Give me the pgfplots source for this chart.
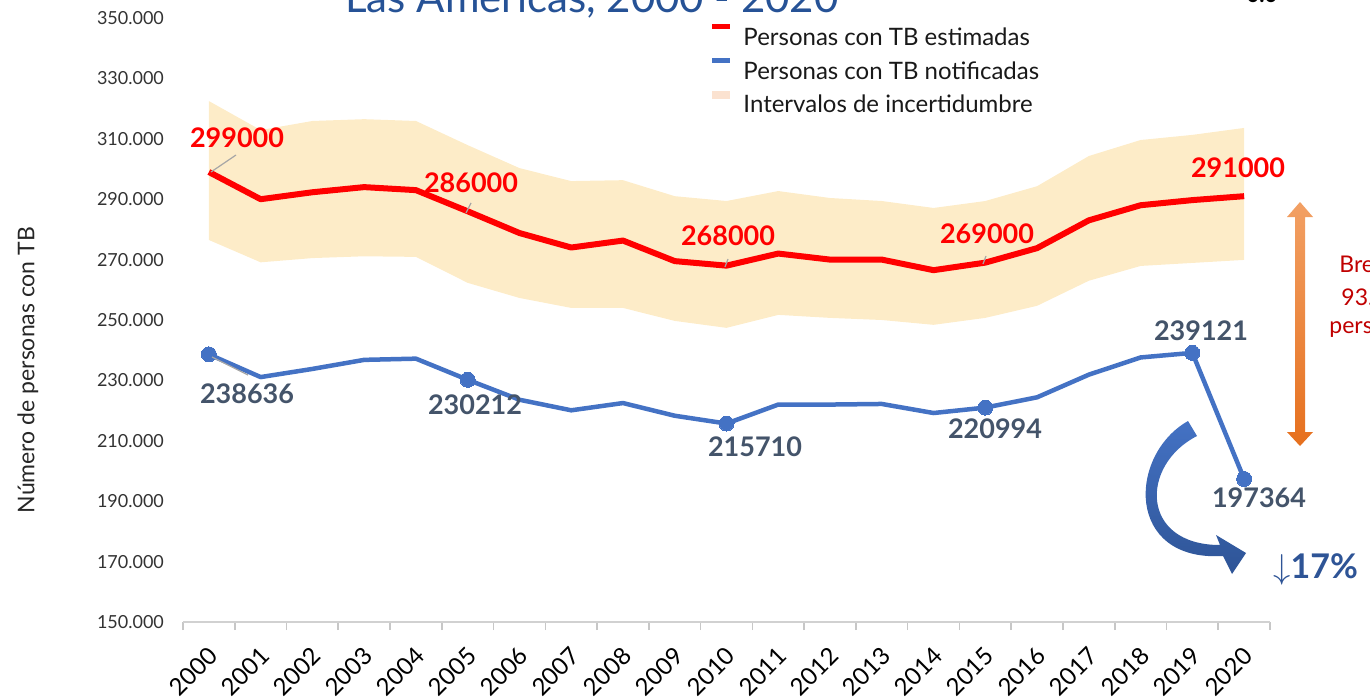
\documentclass[border=0pt]{standalone}
\usepackage{pgfplots}
\pgfplotsset{compat=1.18}
\usepgfplotslibrary{fillbetween}
\usepackage{pgfplotstable}
\usepackage{fontspec}
\setmainfont{Lato}
\definecolor{estred}{RGB}{255,0,0}
\definecolor{notblue}{RGB}{68,114,196}
\definecolor{band}{RGB}{253,236,200}
\definecolor{bandleg}{RGB}{251,226,208}
\definecolor{lblblue}{RGB}{68,84,106}
\definecolor{titleblue}{RGB}{38,82,150}
\definecolor{darkred}{RGB}{192,0,0}
\definecolor{arrowblue}{RGB}{46,84,150}
\definecolor{orangeL}{RGB}{242,160,100}
\definecolor{orangeD}{RGB}{230,112,30}

\pgfplotstableread{
x est up lo notif
0 299000 322500 276500 238636
1 290000 312900 269100 231100
2 292300 315900 270500 233800
3 294000 316500 271100 236800
4 293000 315900 270900 237200
5 286000 307900 262300 230212
6 278800 300300 257300 223600
7 274000 296000 254000 220100
8 276300 296300 254000 222500
9 269500 291000 249700 218300
10 268000 289400 247400 215710
11 272000 292700 251700 222000
12 270000 290400 250700 222000
13 270000 289400 250000 222200
14 266500 287100 248400 219200
15 269000 289400 250700 220994
16 273800 294300 254700 224400
17 283000 304300 263000 231900
18 288000 309600 267900 237600
19 289700 311300 268900 239121
20 291000 313600 269900 197364
}\datatable

\begin{document}
\begin{tikzpicture}
\begin{axis}[
  at={(91.5pt,38pt)}, anchor=south west,
  width=543.5pt, height=302pt, scale only axis,
  xmin=-0.5, xmax=20.5, ymin=150000, ymax=350000,
  clip=false,
  axis x line=bottom, axis y line=left,
  x axis line style={-, draw=black!18, line width=1pt},
  y axis line style={draw=none},
  xtick={0,...,20},
  xticklabels={2000,2001,2002,2003,2004,2005,2006,2007,2008,2009,2010,2011,2012,2013,2014,2015,2016,2017,2018,2019,2020},
  major x tick style={draw=none},
  minor xtick={-0.5,0.5,...,20.5},
  minor x tick style={draw=black!22, line width=0.8pt},
  minor tick length=4pt,
  major tick length=4pt,
  tick align=outside,
  ytick={150000,170000,...,350000},
  ytick style={draw=none},
  scaled y ticks=false,
  /pgf/number format/.cd, fixed, 1000 sep={.}, assume math mode=true,
  /pgfplots/.cd,
  y tick label style={font=\fontsize{9}{10}\selectfont, text=black!80, anchor=east, xshift=-2pt},
  x tick label style={font=\fontsize{12}{13}\selectfont, xshift=-1pt, yshift=-7.5pt, rotate=45, anchor=north east, inner sep=0pt},
  ylabel={Número de personas con TB},
  ylabel style={at={(axis description cs:-0.1426,0.417)}, anchor=center, rotate=0, font=\fontsize{11.5}{13}\selectfont, text=black!85},
  legend style={at={(axis description cs:0.4812,0.9966)}, anchor=north west, draw=none, fill=none,
    font=\fontsize{12}{14}\selectfont, text=black!90, row sep=3.5pt, column sep=0pt,
    nodes={inner sep=0pt, text height=8pt, text depth=2.5pt}},
  legend cell align=left,
]
\addplot[name path=up, draw=none, forget plot] table[x=x,y=up]{\datatable};
\addplot[name path=lo, draw=none, forget plot] table[x=x,y=lo]{\datatable};
\addplot[fill=band, draw=none, forget plot] fill between[of=up and lo];
\addplot[estred, line width=3pt, line join=round, forget plot] table[x=x,y=est]{\datatable};
\addplot[notblue, line width=2.25pt, line join=round, mark=*, mark size=3.75pt,
  mark indices={1,6,11,16,20,21}, mark options={fill=notblue, draw=notblue, line width=0pt}, forget plot]
  table[x=x,y=notif]{\datatable};
\addlegendimage{legend image code/.code={\fill[estred, draw=none] (0pt,5.5pt) rectangle (9pt,8pt); \path[draw=none] (9pt,6pt) -- (15.5pt,6pt);}}
\addlegendentry{Personas con TB estimadas}
\addlegendimage{legend image code/.code={\fill[notblue, draw=none] (0pt,5.5pt) rectangle (9pt,8pt); \path[draw=none] (9pt,6pt) -- (15.5pt,6pt);}}
\addlegendentry{Personas con TB notificadas}
\addlegendimage{legend image code/.code={\fill[bandleg, draw=none] (0pt,4pt) rectangle (9pt,8pt); \path[draw=none] (9pt,6pt) -- (15.5pt,6pt);}}
\addlegendentry{Intervalos de incertidumbre}
\end{axis}

\begin{scope}[shift={(0pt,349pt)}, x=0.5pt, y=-0.5pt]
  % title (cut off at the top, as in the reference)
  \node[anchor=base, inner sep=0pt, text=titleblue, font=\fontsize{21}{25}\selectfont] at (592,13) {Las Américas, 2000 - 2020};
  % leader lines
  \draw[black!35, line width=0.6pt] (211,172) -- (236,155);
  \draw[black!35, line width=0.6pt] (466,213) -- (471,203);
  \draw[black!35, line width=0.6pt] (725,267) -- (728,259);
  \draw[black!35, line width=0.6pt] (983,264) -- (986,256);
  \draw[black!35, line width=0.6pt] (212,357) -- (248,375);
  % data labels
  \begin{scope}[every node/.style={font=\fontsize{13.5}{15}\bfseries\selectfont, inner sep=0pt}]
    \node[text=estred] at (237,138) {299000};
    \node[text=estred] at (471,183) {286000};
    \node[text=estred] at (728,236) {268000};
    \node[text=estred] at (987,234) {269000};
    \node[text=estred] at (1238,168) {291000};
    \node[text=lblblue] at (247,394) {238636};
    \node[text=lblblue] at (475,405) {230212};
    \node[text=lblblue] at (755,447) {215710};
    \node[text=lblblue] at (995,429) {220994};
    \node[text=lblblue] at (1201,331) {239121};
    \node[text=lblblue] at (1259,498) {197364};
  \end{scope}
  % orange double arrow
  \shade[top color=orangeL, bottom color=orangeD]
    (1300,202) -- (1313,217) -- (1305,217) -- (1305,432) -- (1313,432) -- (1300,446)
    -- (1287,432) -- (1295,432) -- (1295,217) -- (1287,217) -- cycle;
  % gap text
  \begin{scope}[every node/.style={font=\fontsize{11.5}{13}\selectfont, text=darkred, inner sep=0pt, anchor=base west}]
    \node at (1339,272) {Brecha};
    \node at (1341,305) {93.636};
    \node at (1329,333) {personas};
  \end{scope}
  % curved blue arrow
  \shade[top color=notblue, bottom color=arrowblue]
    (1188,421) .. controls (1128,455) and (1125,562) .. (1223,556)
    -- (1232,574) -- (1246,553) -- (1216,535) -- (1220,545)
    .. controls (1140,545) and (1140,465) .. (1197,436) -- cycle;
  \node[anchor=base west, inner sep=0pt, text=arrowblue, font=\fontsize{17}{20}\bfseries\selectfont] at (1273,578) {$\downarrow$17\%};
  \node[anchor=base, inner sep=0pt, font=\fontsize{11}{12}\bfseries\selectfont] at (1262,3) {0.0};
\end{scope}
\pgfresetboundingbox
\path[use as bounding box] (0pt,0pt) rectangle (685pt,349pt);
\end{tikzpicture}
\end{document}
